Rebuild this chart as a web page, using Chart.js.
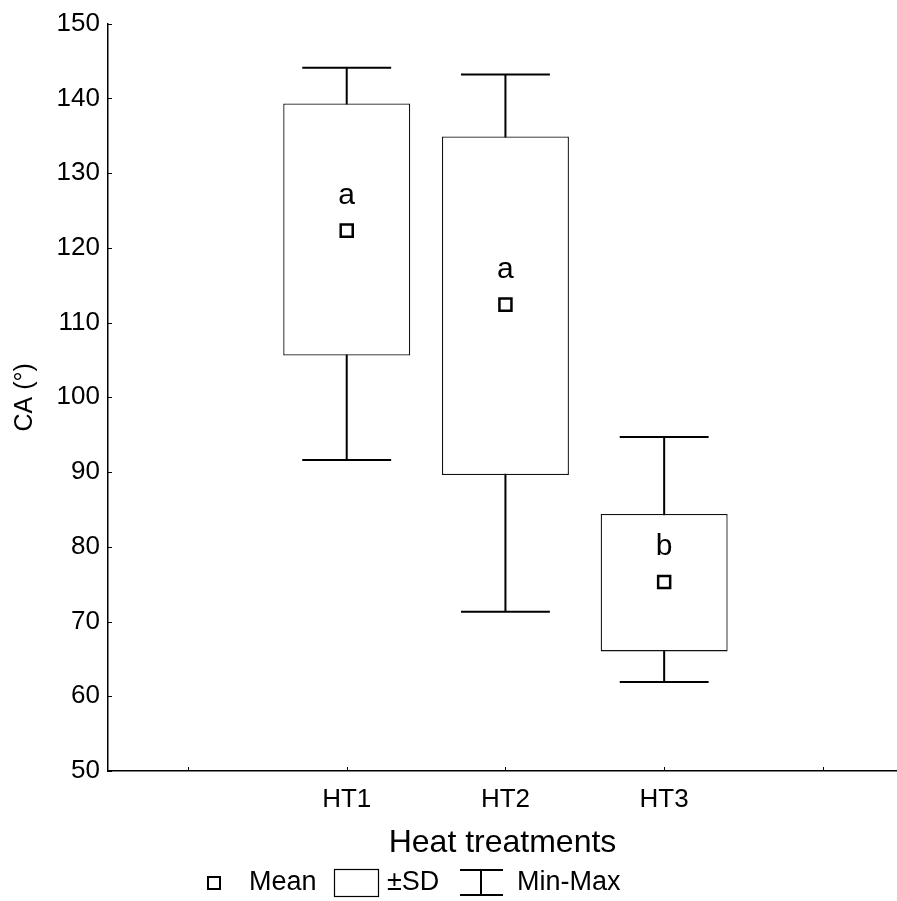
<!DOCTYPE html>
<html>
<head>
<meta charset="utf-8">
<title>CA by heat treatment</title>
<script src="https://cdn.jsdelivr.net/npm/chart.js@4.4.1/dist/chart.umd.min.js"></script>
<style>
  html, body { margin: 0; padding: 0; background: #fff; }
  canvas { display: block; }
</style>
</head>
<body>
<canvas id="caChart" width="897" height="901"></canvas>
<script>
// x slots: one empty slot on each side of the three treatments
const categories = ['', 'HT1', 'HT2', 'HT3', ''];
const positions = [1, 2, 3];
const means = [122.3, 112.4, 75.3];
const sdLow = [105.6, 89.6, 66.0];
const sdHigh = [139.3, 134.9, 84.4];
const minValues = [91.6, 71.3, 61.9];
const maxValues = [144.1, 143.2, 94.7];
const groupLetters = ['a', 'a', 'b'];
const yTicks = [50, 60, 70, 80, 90, 100, 110, 120, 130, 140, 150];

const FONT = "'Liberation Sans', Arial, sans-serif";

// min-max whiskers, drawn under the SD boxes
const whiskerPlugin = {
    id: 'whiskers',
    beforeDatasetsDraw(chart) {
        const { ctx, scales: { x, y } } = chart;
        ctx.save();
        ctx.strokeStyle = '#000';
        ctx.lineWidth = 2;
        positions.forEach((p, i) => {
            const px = x.getPixelForValue(p);
            const half = x.getPixelForValue(p + 0.28) - px;
            const top = y.getPixelForValue(maxValues[i]);
            const bottom = y.getPixelForValue(minValues[i]);
            ctx.beginPath();
            ctx.moveTo(px, top);
            ctx.lineTo(px, bottom);
            ctx.moveTo(px - half, top);
            ctx.lineTo(px + half, top);
            ctx.moveTo(px - half, bottom);
            ctx.lineTo(px + half, bottom);
            ctx.stroke();
        });
        ctx.restore();
    }
};

// significance letters above the means
const letterPlugin = {
    id: 'letters',
    afterDatasetsDraw(chart) {
        const { ctx, scales: { x, y } } = chart;
        ctx.save();
        ctx.fillStyle = '#000';
        ctx.font = '30px ' + FONT;
        ctx.textAlign = 'center';
        ctx.textBaseline = 'alphabetic';
        positions.forEach((p, i) => {
            ctx.fillText(groupLetters[i], x.getPixelForValue(p), y.getPixelForValue(means[i]) - 27);
        });
        ctx.restore();
    }
};

// short tick marks pointing into the plot + the legend row
const framePlugin = {
    id: 'frame',
    afterDraw(chart) {
        const { ctx, chartArea, scales: { x, y } } = chart;
        ctx.save();
        ctx.strokeStyle = '#000';
        ctx.lineWidth = 1;
        ctx.beginPath();
        y.ticks.forEach(t => {
            const py = Math.round(y.getPixelForValue(t.value)) + 0.5;
            ctx.moveTo(chartArea.left, py);
            ctx.lineTo(chartArea.left + 4, py);
        });
        x.ticks.forEach(t => {
            const px = Math.round(x.getPixelForValue(t.value)) + 0.5;
            ctx.moveTo(px, chartArea.bottom);
            ctx.lineTo(px, chartArea.bottom - 4);
        });
        ctx.stroke();

        // legend
        const ly = 883;
        ctx.font = '27px ' + FONT;
        ctx.fillStyle = '#000';
        ctx.textBaseline = 'middle';
        ctx.textAlign = 'left';

        ctx.lineWidth = 2;
        ctx.strokeRect(208, ly - 6, 12, 12);
        ctx.fillText('Mean', 249, ly);

        ctx.lineWidth = 1.2;
        ctx.strokeRect(334.5, ly - 13.5, 44, 27);
        ctx.fillText('\u00B1SD', 387, ly);

        ctx.lineWidth = 2;
        ctx.beginPath();
        ctx.moveTo(460, ly - 13); ctx.lineTo(503, ly - 13);
        ctx.moveTo(481, ly - 13); ctx.lineTo(481, ly + 12);
        ctx.moveTo(460, ly + 12); ctx.lineTo(503, ly + 12);
        ctx.stroke();
        ctx.fillText('Min-Max', 517, ly);
        ctx.restore();
    }
};

const canvas = document.getElementById('caChart');

new Chart(canvas, {
    data: {
        datasets: [{
            type: 'scatter',
            label: 'Mean',
            data: positions.map((p, i) => ({ x: p, y: means[i] })),
            pointStyle: 'rect',
            pointRadius: 8.5,
            pointBorderWidth: 2.5,
            pointBackgroundColor: '#fff',
            pointBorderColor: '#000',
            order: 0
        }, {
            type: 'bar',
            label: '\u00B1SD',
            data: positions.map((p, i) => ({ x: p, y: [sdLow[i], sdHigh[i]] })),
            backgroundColor: '#fff',
            borderColor: '#111',
            borderWidth: 1.3,
            borderSkipped: false,
            barPercentage: 0.8,
            categoryPercentage: 1,
            order: 1
        }]
    },
    options: {
        responsive: false,
        animation: false,
        layout: {
            autoPadding: false,
            padding: { top: 23, right: 0, bottom: 0, left: 0 }
        },
        plugins: {
            legend: { display: false },
            tooltip: { enabled: false }
        },
        scales: {
            x: {
                type: 'linear',
                offset: false,
                min: -0.504,
                max: 4.467,
                grid: { display: false, drawTicks: false },
                border: { color: '#000', width: 1.5 },
                afterFit: s => { s.height = 130; },
                ticks: {
                    stepSize: 1,
                    includeBounds: false,
                    padding: 13,
                    color: '#000',
                    font: { family: FONT, size: 26 },
                    callback: v => categories[v] || ''
                },
                title: {
                    display: true,
                    text: 'Heat treatments',
                    color: '#000',
                    font: { family: FONT, size: 32 },
                    padding: { top: 0, bottom: 39 }
                }
            },
            y: {
                min: yTicks[0],
                max: yTicks[yTicks.length - 1],
                afterBuildTicks: s => { s.ticks = yTicks.map(v => ({ value: v })); },
                grid: { display: false, drawTicks: false },
                border: { color: '#000', width: 1.5 },
                afterFit: s => { s.width = 108; },
                ticks: {
                    padding: 8,
                    color: '#000',
                    font: { family: FONT, size: 26 }
                },
                title: {
                    display: true,
                    text: 'CA (\u00B0)',
                    color: '#000',
                    font: { family: FONT, size: 25 },
                    padding: { top: 10, bottom: 0 }
                }
            }
        }
    },
    plugins: [whiskerPlugin, letterPlugin, framePlugin]
});
</script>
</body>
</html>
